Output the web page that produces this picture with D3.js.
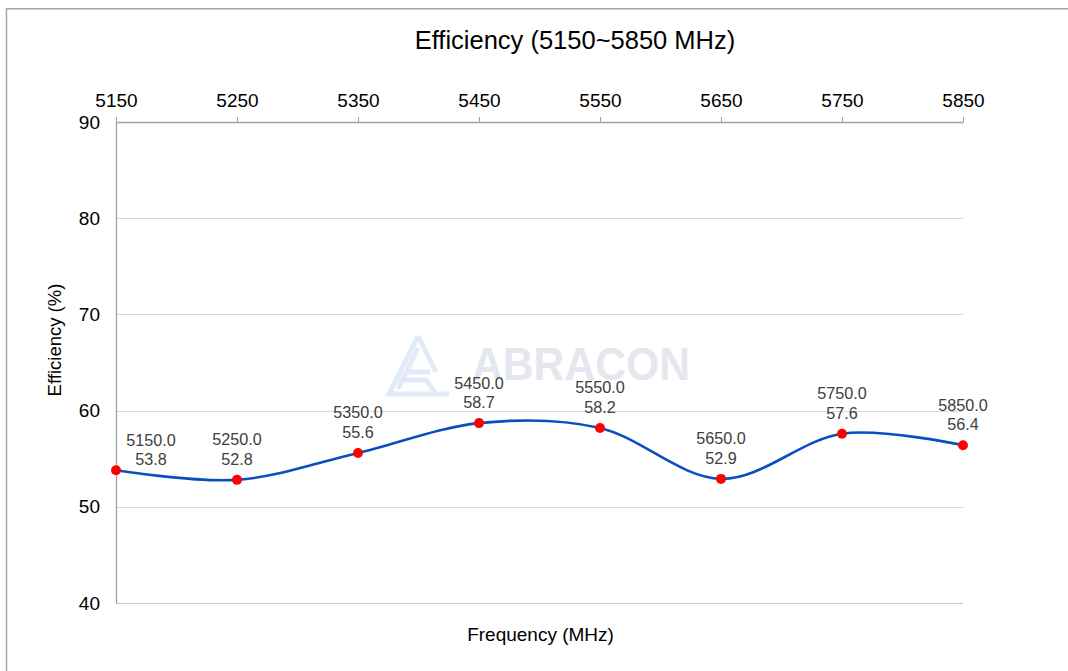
<!DOCTYPE html>
<html><head><meta charset="utf-8">
<script src="https://cdn.jsdelivr.net/npm/d3@7"></script>
<style>
html,body{margin:0;padding:0;background:#fff;}
svg{display:block;font-family:"Liberation Sans",Arial,sans-serif;}
</style></head>
<body><svg id="c" width="1068" height="671"></svg>
<script>
const frequencies = [5150, 5250, 5350, 5450, 5550, 5650, 5750, 5850];
const efficiency = [53.8, 52.8, 55.6, 58.7, 58.2, 52.9, 57.6, 56.4];
const yTicks = [40, 50, 60, 70, 80, 90];
const xTicks = [5150, 5250, 5350, 5450, 5550, 5650, 5750, 5850];
const title = "Efficiency (5150~5850 MHz)";
const xTitle = "Frequency (MHz)";
const yTitle = "Efficiency (%)";

const svg = d3.select("#c");
const W = 1068, H = 671;
const m = {left: 116, right: 963, top: 122, bottom: 603};

// outer frame
svg.append("path").attr("d", `M6.5,${H} V8.75 H${W}`)
  .attr("fill", "none").attr("stroke", "#a6a6a6").attr("stroke-width", 1.5);

const x = d3.scaleLinear().domain([5150, 5850]).range([m.left, m.right]);
const y = d3.scaleLinear().domain([40, 90]).range([m.bottom, m.top]);

// watermark
const wm = svg.append("g");
wm.append("path")
  .attr("d", "M418,336 L389,394 L449,394 M418,348 L398,389 M418,336 L436,372 M396,380 L426,380 L436,394 M406,372 L430,372")
  .attr("fill", "none").attr("stroke", "#e2eaf9").attr("stroke-width", 5).attr("stroke-linejoin", "miter");
wm.append("text").attr("x", 472).attr("y", 380).text("ABRACON")
  .attr("font-size", 47).attr("font-weight", "bold").attr("fill", "#e5e7ee")
  .attr("textLength", 218).attr("lengthAdjust", "spacingAndGlyphs");

// gridlines
svg.append("g").selectAll("line").data(yTicks.filter(t => t !== 90)).join("line")
  .attr("x1", m.left).attr("x2", m.right)
  .attr("y1", d => Math.round(y(d)) + 0.5).attr("y2", d => Math.round(y(d)) + 0.5)
  .attr("stroke", d => d === 40 ? "#c8c8c8" : "#d9d9d9").attr("stroke-width", 1);

// top axis
const xAxis = d3.axisTop(x).tickValues(xTicks).tickFormat(d3.format("d")).tickSize(5).tickSizeOuter(0).tickPadding(10);
const gx = svg.append("g").attr("transform", `translate(0,${m.top})`).call(xAxis);
gx.select(".domain").attr("stroke", "#a0a0a0").attr("stroke-width", 1.3);
gx.selectAll(".tick line").attr("stroke", "#a0a0a0");
gx.selectAll(".tick text").attr("font-size", 19).attr("fill", "#000").attr("font-family", "Liberation Sans, Arial, sans-serif");

// left axis
const yAxis = d3.axisLeft(y).tickValues(yTicks).tickSize(0).tickPadding(16);
const gy = svg.append("g").attr("transform", `translate(${m.left},0)`).call(yAxis);
gy.select(".domain").attr("stroke", "#a0a0a0").attr("stroke-width", 1.3);
gy.selectAll(".tick text").attr("font-size", 19).attr("fill", "#000").attr("font-family", "Liberation Sans, Arial, sans-serif");

// titles
svg.append("text").attr("x", 575).attr("y", 49).attr("text-anchor", "middle")
  .attr("font-size", 25.5).attr("fill", "#000").text(title);
svg.append("text").attr("x", (m.left + m.right) / 2 + 1).attr("y", 641).attr("text-anchor", "middle")
  .attr("font-size", 19).attr("fill", "#000").text(xTitle);
svg.append("text").attr("transform", `translate(61,${340}) rotate(-90)`)
  .attr("text-anchor", "middle").attr("font-size", 18.5).attr("fill", "#000").text(yTitle);

// line
const data = frequencies.map((f, i) => ({f, v: efficiency[i]}));
const line = d3.line().x(d => x(d.f)).y(d => y(d.v)).curve(d3.curveCardinal.tension(0));
svg.append("path").datum(data).attr("d", line)
  .attr("fill", "none").attr("stroke", "#0a4fc0").attr("stroke-width", 2.6);

// points
svg.append("g").selectAll("circle").data(data).join("circle")
  .attr("cx", d => x(d.f)).attr("cy", d => y(d.v)).attr("r", 5)
  .attr("fill", "#ff0000");

// labels
const lbl = svg.append("g").attr("font-size", 16.2).attr("fill", "#404040").attr("text-anchor", "middle");
data.forEach((d, i) => {
  let lx = x(d.f), ly = y(d.v);
  let dx = 0, dy = 0;
  if (i === 0) { dx = 35; dy = 10; }
  const t = lbl.append("text").attr("x", lx + dx).attr("y", ly + dy - 15);
  t.append("tspan").attr("x", lx + dx).attr("dy", -19.5).text(d.f.toFixed(1));
  t.append("tspan").attr("x", lx + dx).attr("dy", 19.5).text(d.v.toFixed(1));
});
</script></body></html>
